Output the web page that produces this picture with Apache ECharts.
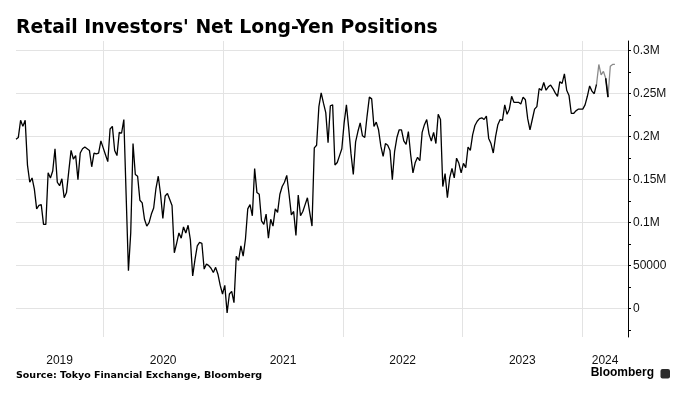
<!DOCTYPE html>
<html>
<head>
<meta charset="utf-8">
<script src="https://cdn.jsdelivr.net/npm/echarts@6/dist/echarts.min.js"></script>
<style>
html, body { margin: 0; padding: 0; background: #fff; }
#chart { width: 686px; height: 399px; }
</style>
</head>
<body>
<div id="chart"></div>
<script>
// 周度数据, 单位: 千手 (thousand contracts), 第一周 2019-04-10
var firstWeek = '2019-04-10';
var axisEnd = '2024-05-20';

var w2019 = [197, 199, 219, 212, 219, 167, 147, 152, 139, 116, 120, 121, 98, 98, 158, 152, 160, 186, 147, 143,
    151, 129, 135, 160, 184, 174, 178, 150, 181, 186, 188, 186, 184, 165, 181, 180, 181, 195];
var w2020 = [187, 179, 171, 209, 212, 184, 178, 205, 204, 220, 132, 44, 88, 192, 156, 154, 126, 123, 104, 96,
    100, 110, 117, 140, 154, 133, 105, 131, 134, 127, 120, 65, 76, 88, 82, 95, 88, 97, 80, 38,
    57, 73, 77, 76, 46, 52, 50, 47, 42, 48, 40, 27, 17];
var w2021 = [27, -5, 17, 20, 7, 61, 56, 73, 61, 81, 116, 121, 108, 163, 135, 133, 102, 98, 110,
    82, 104, 96, 116, 112, 133, 142, 147, 155, 133, 109, 113, 85, 132, 108, 113, 121, 129, 112, 96,
    187, 190, 235, 251, 239, 228, 193, 236, 237, 167, 170, 178, 186];
var w2022 = [216, 237, 210, 180, 156, 194, 206, 216, 201, 199, 224, 246, 244, 212, 217, 208, 189,
    177, 192, 190, 184, 150, 183, 199, 208, 208, 195, 191, 206, 179, 158, 170, 176, 172, 205, 214, 220,
    203, 195, 205, 192, 226, 220, 142, 157, 129, 152, 163, 152, 175, 169, 158];
var w2023 = [169, 164, 188, 184, 202, 213, 218, 221, 222, 220, 224, 198, 192, 181, 200,
    214, 220, 219, 237, 226, 232, 247, 240, 240, 240, 238, 246, 243, 221, 208, 220, 232, 235, 256, 254,
    263, 254, 258, 260, 256, 251, 247, 264, 262, 273, 254, 248, 227, 227, 230, 232, 232];
var w2024 = [232, 237, 247, 259, 253, 250, 261, 284, 272, 276, 268, 246, 282, 284, 284];

// 最近几周用灰色
var greyFrom = 253;
var dipWeeks = [257, 258];

var yearNames = [2019, 2020, 2021, 2022, 2023, 2024];
var yLabelValues = [0, 50, 100, 150, 200, 250, 300];
var yLabelText = ['0', '50000', '0.1M', '0.15M', '0.2M', '0.25M', '0.3M'];
var yTickValues = [-25, 0, 25, 50, 75, 100, 125, 150, 175, 200, 225, 250, 275, 300];

var netLong = [].concat(w2019, w2020, w2021, w2022, w2023, w2024);
var weekMs = 7 * 24 * 3600 * 1000;
var startMs = +new Date(firstWeek);
var endMs = +new Date(axisEnd);

var allPts = netLong.map(function (v, i) {
    return [startMs + i * weekMs, v];
});
var mainData = allPts.slice(0, greyFrom + 1);
var greyData = allPts.slice(greyFrom);
var dipData = allPts.slice(dipWeeks[0], dipWeeks[1] + 1);

// 年份分隔线 和 年份标签 (标签放在每年可见部分的中间)
var yearStarts = [];
var yearMids = [];
yearNames.forEach(function (y) {
    var a = Date.UTC(y, 0, 1), b = Date.UTC(y + 1, 0, 1);
    if (a > startMs) yearStarts.push(a);
    yearMids.push((Math.max(a, startMs) + Math.min(b, endMs)) / 2);
});

(function () {
    let myEchart = echarts.init(document.getElementById('chart'));
    let option = {
        animation: false,
        title: {
            text: "Retail Investors' Net Long-Yen Positions",
            left: 16,
            top: 19,
            padding: 0,
            textStyle: {
                fontFamily: 'DejaVu Sans',
                fontWeight: 'bold',
                fontSize: 18.8,
                color: '#000'
            }
        },
        grid: {
            left: 16,
            right: 58,
            top: 41,
            bottom: 62,
            outerBoundsMode: 'none'
        },
        // 时间用毫秒数的 value 轴 (time 轴不支持 customValues)
        xAxis: {
            type: 'value',
            min: startMs,
            max: endMs,
            axisLine: { show: false },
            axisTick: { show: false, customValues: yearStarts },
            splitLine: {
                show: true,
                lineStyle: { color: '#e3e3e3', width: 1 }
            },
            axisLabel: {
                customValues: yearMids,
                formatter: function (v) {
                    return String(new Date(v).getUTCFullYear());
                },
                margin: 18,
                fontFamily: 'Liberation Sans',
                fontSize: 12,
                color: '#111',
                hideOverlap: false
            }
        },
        yAxis: {
            type: 'value',
            position: 'right',
            min: -33,
            max: 311.3,
            axisLine: { show: true, lineStyle: { color: '#000', width: 1 } },
            axisTick: {
                show: true,
                inside: false,
                length: 3,
                customValues: yTickValues,
                lineStyle: { color: '#000' }
            },
            axisLabel: {
                customValues: yLabelValues,
                formatter: function (v) {
                    return yLabelText[yLabelValues.indexOf(v)];
                },
                margin: 5,
                fontFamily: 'Liberation Sans',
                fontSize: 12,
                color: '#111'
            },
            // 只在 50000 的整数倍画网格线
            splitLine: {
                show: true,
                lineStyle: { color: ['rgba(0,0,0,0)', '#e3e3e3'], width: 1 }
            }
        },
        series: [
            {
                type: 'line',
                data: mainData,
                symbol: 'none',
                silent: true,
                lineStyle: { color: '#000', width: 1.3 }
            },
            {
                type: 'line',
                data: greyData,
                symbol: 'none',
                silent: true,
                lineStyle: { color: '#8a8a8a', width: 1.3 }
            },
            {
                type: 'line',
                data: dipData,
                symbol: 'none',
                silent: true,
                lineStyle: { color: '#000', width: 1.6 }
            }
        ],
        graphic: [
            {
                type: 'text',
                left: 16,
                top: 371,
                style: {
                    text: 'Source: Tokyo Financial Exchange, Bloomberg',
                    font: 'bold 9.5px "DejaVu Sans"',
                    fill: '#000'
                }
            },
            {
                type: 'text',
                right: 32,
                top: 367,
                style: {
                    text: 'Bloomberg',
                    font: 'bold 12px "Liberation Sans"',
                    fill: '#000'
                }
            },
            {
                type: 'rect',
                right: 16,
                top: 369,
                shape: { width: 9.5, height: 9.5, r: 2 },
                style: { fill: '#2b2b2b' }
            }
        ]
    };
    myEchart.setOption(option);
})();
</script>
</body>
</html>
